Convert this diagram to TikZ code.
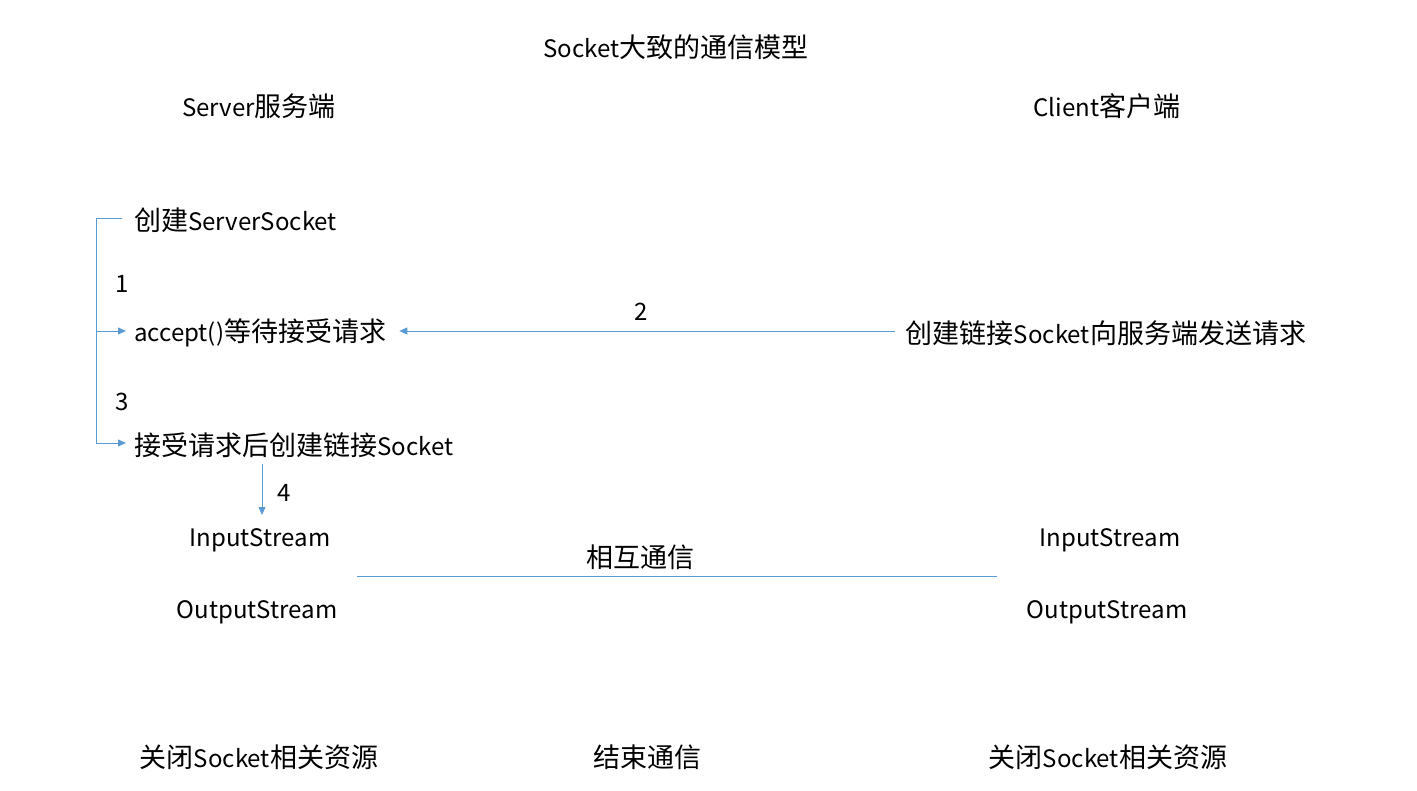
\documentclass[tikz,border=0pt]{standalone}
\usepackage{fontspec}
\setmainfont{Noto Sans CJK SC}
\newfontfamily\latfont{Noto Sans CJK SC}[Scale=0.89]
\newcommand{\lt}[1]{{\latfont #1}}
\usetikzlibrary{arrows.meta}
\definecolor{lineblue}{HTML}{5B9BD5}
\tikzset{
  lbl/.style={font=\fontsize{27}{30}\selectfont, inner sep=0pt, text=black},
  conn/.style={draw=lineblue, line width=0.8pt},
  arr/.style={conn, -{Triangle[length=8pt,width=7pt]}}
}
\begin{document}
\begin{tikzpicture}[x=1pt,y=-1pt]
\useasboundingbox (0,0) rectangle (1417,791);
% titles
\node[lbl] (title) at (676,47) {\lt{Socket}大致的通信模型};
\node[lbl] (server) at (259,106) {\lt{Server}服务端};
\node[lbl] (client) at (1107,106) {\lt{Client}客户端};
% server steps
\node[lbl, anchor=west] (create) at (134,220) {创建\lt{ServerSocket}};
\node[lbl] (n1) at (122,284) {\lt{1}};
\node[lbl, anchor=west] (accept) at (134,333) {\lt{accept()}等待接受请求};
\node[lbl] (n3) at (122,402) {\lt{3}};
\node[lbl, anchor=west] (conn) at (134,445) {接受请求后创建链接\lt{Socket}};
\node[lbl] (n4) at (284,493) {\lt{4}};
% client step
\node[lbl] (creq) at (1106,333) {创建链接\lt{Socket}向服务端发送请求};
\node[lbl] (n2) at (641,312) {\lt{2}};
% streams
\node[lbl] (sin) at (260,540) {\lt{InputStream}};
\node[lbl] (sout) at (257,612) {\lt{OutputStream}};
\node[lbl] (cin) at (1110,540) {\lt{InputStream}};
\node[lbl] (cout) at (1107,612) {\lt{OutputStream}};
\node[lbl] (mutual) at (640,557) {相互通信};
% closing
\node[lbl] (sclose) at (259,757) {关闭\lt{Socket}相关资源};
\node[lbl] (end) at (647,757) {结束通信};
\node[lbl] (cclose) at (1108,757) {关闭\lt{Socket}相关资源};
% connectors
\coordinate (bx) at (96,218);
\coordinate (by1) at (96,331);
\coordinate (by2) at (96,443);
\draw[conn] (122,218) -- (bx) -- (by2);
\draw[arr] (by1) -- (126,331);
\draw[arr] (by2) -- (126,443);
\draw[arr] ([xshift=-11pt]creq.west |- by1) -- ([xshift=13pt]accept.east |- by1);
\coordinate (vtop) at (262,464);
\draw[arr] (vtop) -- (262,515);
\coordinate (ml) at (357,576);
\coordinate (mr) at (997,576);
\draw[conn] (ml) -- (mr);
\end{tikzpicture}
\end{document}
